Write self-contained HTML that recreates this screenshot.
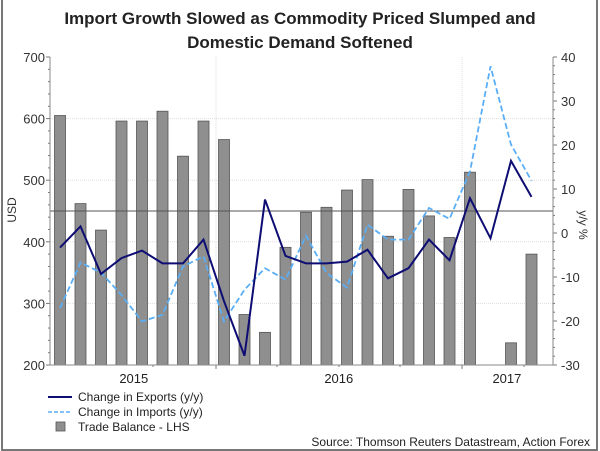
<!DOCTYPE html>
<html><head><meta charset="utf-8"><style>
body{margin:0;background:#fff;}
svg{display:block;font-family:"Liberation Sans",Arial,sans-serif;}
</style></head><body>
<svg id="chart" width="600" height="451" viewBox="0 0 600 451">
<rect x="2" y="-2" width="595" height="452" fill="none" stroke="#777" stroke-width="2"/>
<text x="300" y="24" text-anchor="middle" font-size="17" font-weight="bold" fill="#222">Import Growth Slowed as Commodity Priced Slumped and</text>
<text x="300" y="48" text-anchor="middle" font-size="17" font-weight="bold" fill="#222">Domestic Demand Softened</text>
<g id="grid"></g>
<g id="bars"></g>
<g id="lines"></g>
<g id="axes"></g>
<text transform="translate(16,210) rotate(-90)" text-anchor="middle" font-size="12" fill="#333">USD</text>
<text transform="translate(579,225) rotate(90)" text-anchor="middle" font-size="12" fill="#333">y/y %</text>
<g>
<line x1="48" y1="397" x2="72" y2="397" stroke="#0d0d73" stroke-width="2"/>
<text x="78" y="401" font-size="12" fill="#222">Change in Exports (y/y)</text>
<line x1="48" y1="412" x2="72" y2="412" stroke="#5aaef5" stroke-width="1.5" stroke-dasharray="4,2"/>
<text x="78" y="416" font-size="12" fill="#222">Change in Imports (y/y)</text>
<rect x="56" y="422" width="9" height="9" fill="#8f8f8f" stroke="#555" stroke-width="0.8"/>
<text x="78" y="431" font-size="12" fill="#222">Trade Balance - LHS</text>
</g>
<text x="590" y="446" text-anchor="end" font-size="12" fill="#222">Source: Thomson Reuters Datastream, Action Forex</text>
</svg>
<script>
const tradeBalance=[605,462,419,596,596,612,539,596,566,282,253,391,448,456,484,501,409,485,442,407,513,null,236,380];
const exportsYoY=[-3.3,1.5,-9.3,-5.7,-4.0,-6.9,-6.9,-1.5,-15.5,-27.9,7.6,-5.2,-6.9,-6.9,-6.5,-3.8,-10.3,-8.0,-1.5,-6.2,7.9,-1.2,16.4,8.2];
const importsYoY=[-17.1,-6.7,-9.0,-14.1,-20.1,-18.6,-7.6,-5.3,-20.1,-12.9,-8.0,-10.6,-0.6,-9.1,-12.4,1.9,-1.5,-1.5,5.7,3.2,14.0,37.9,20.1,11.9];
const leftTicks=[200,300,400,500,600,700];
const rightTicks=[-30,-20,-10,0,10,20,30,40];
const yearLabels=["2015","2016","2017"];
const yearIdx=[3.6,13.6,21.8];
const refLevel=450;

const NS="http://www.w3.org/2000/svg";
const X0=50,X1=553,T=57,B=365;
function xi(i){return 60+i*20.5;}
function yl(v){return B-(v-200)/500*(B-T);}
function yr(v){return B-(v+30)/70*(B-T);}
function mk(tag,attrs,parent){const e=document.createElementNS(NS,tag);for(const k in attrs)e.setAttribute(k,attrs[k]);parent.appendChild(e);return e;}
const grid=document.getElementById('grid'),bars=document.getElementById('bars'),lines=document.getElementById('lines'),axes=document.getElementById('axes');

leftTicks.forEach(v=>{
  if(v>200&&v<700){const g=mk('line',{x1:X0,x2:X1,y1:yl(v),y2:yl(v),stroke:'#ddd','stroke-dasharray':'1,1'},grid);
  
  }
  const t=mk('text',{x:X0-5,y:yl(v)+5,'text-anchor':'end','font-size':'13',fill:'#333'},axes);t.textContent=v;
  
  
});
for(let v=200;v<=700;v+=20){const tk=mk('line',{x1:X0-(v%100===0?4:2),x2:X0,y1:yl(v),y2:yl(v),stroke:'#777'},axes);
  
  }
for(let v=-30;v<=40;v+=2){const tk=mk('line',{x1:X1,x2:X1+(v%10===0?4:2),y1:yr(v),y2:yr(v),stroke:'#777'},axes);
  
  }
[216,462].forEach((x,k)=>{const g=mk('line',{x1:x,x2:x,y1:T,y2:B,stroke:'#ddd','stroke-dasharray':'1,1'},grid);
  
  
  const tk=mk('line',{x1:x,x2:x,y1:B,y2:B+4,stroke:'#777'},axes);
  
  });
[153,277,339,400,524].forEach(x=>{const tk=mk('line',{x1:x,x2:x,y1:B,y2:B+2,stroke:'#777'},axes);
  
  });
rightTicks.forEach(v=>{
  const t=mk('text',{x:X1+8,y:yr(v)+5,'font-size':'13',fill:'#333'},axes);t.textContent=v;
  
  
});
yearLabels.forEach((s,k)=>{const t=mk('text',{x:xi(yearIdx[k]),y:383,'text-anchor':'middle','font-size':'13',fill:'#222'},axes);t.textContent=s;
  
  });

tradeBalance.forEach((v,i)=>{if(v==null)return;
  const r=mk('rect',{x:xi(i)-5.5,y:yl(v),width:11,height:B-yl(v),fill:'#8f8f8f',stroke:'#555','stroke-width':'0.8'},bars);
  
  });

const ref=mk('line',{x1:X0,x2:X1,y1:yl(refLevel),y2:yl(refLevel),stroke:'#555','stroke-width':'1'},lines);


const pi=mk('polyline',{points:importsYoY.map((v,i)=>xi(i)+','+yr(v)).join(' '),fill:'none',stroke:'#5aaef5','stroke-width':'1.8','stroke-dasharray':'6,3'},lines);


const pe=mk('polyline',{points:exportsYoY.map((v,i)=>xi(i)+','+yr(v)).join(' '),fill:'none',stroke:'#0d0d73','stroke-width':'2'},lines);



const al=mk('line',{x1:X0,x2:X0,y1:T,y2:B,stroke:'#888'},axes);


const ar=mk('line',{x1:X1,x2:X1,y1:T,y2:B,stroke:'#888'},axes);


const ab=mk('line',{x1:X0,x2:X1,y1:B,y2:B,stroke:'#888'},axes);


</script>
</body></html>
